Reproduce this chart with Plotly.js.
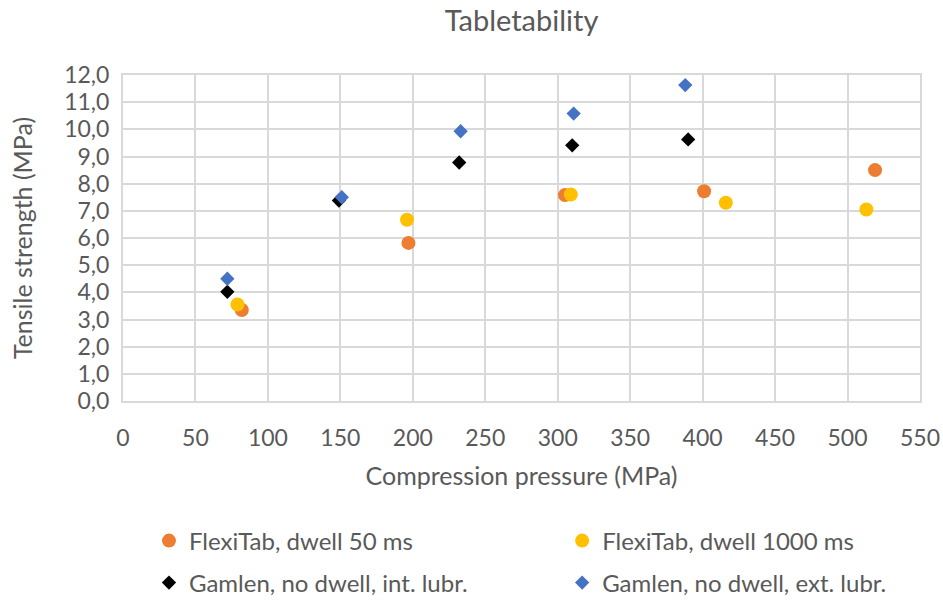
<!DOCTYPE html>
<html>
<head>
<meta charset="utf-8">
<script src="https://cdn.plot.ly/plotly-3.0.1.min.js"></script>
<style>html,body{margin:0;padding:0;background:#fff;}#chart{width:943px;height:601px;}</style>
</head>
<body>
<div id="chart"></div>
<script>
// Data
const flexi50X = [82, 197, 305, 401, 519];
const flexi50Y = [3.35, 5.82, 7.58, 7.72, 8.5];
const flexi1000X = [79, 196, 309, 416, 513];
const flexi1000Y = [3.55, 6.67, 7.6, 7.3, 7.05];
const gamlenIntX = [72, 149, 232, 310, 390];
const gamlenIntY = [4.02, 7.38, 8.78, 9.41, 9.63];
const gamlenExtX = [72, 151, 233, 311, 388];
const gamlenExtY = [4.5, 7.5, 9.93, 10.58, 11.63];
const seriesNames = ["FlexiTab, dwell 50 ms", "FlexiTab, dwell 1000 ms", "Gamlen, no dwell, int. lubr.", "Gamlen, no dwell, ext. lubr."];

const FONT = "Lato, 'Open Sans', sans-serif";
const TXT = "#595959";
const GRID = "#D9D9D9";

const traces = [
  {x: flexi50X, y: flexi50Y, name: seriesNames[0], type: "scatter", mode: "markers",
   marker: {symbol: "circle", size: 14, color: "#ED7D31"}, legend: "legend"},
  {x: flexi1000X, y: flexi1000Y, name: seriesNames[1], type: "scatter", mode: "markers",
   marker: {symbol: "circle", size: 14, color: "#FFC000"}, legend: "legend2"},
  {x: gamlenIntX, y: gamlenIntY, name: seriesNames[2], type: "scatter", mode: "markers",
   marker: {symbol: "diamond", size: 11, color: "#000000"}, legend: "legend3"},
  {x: gamlenExtX, y: gamlenExtY, name: seriesNames[3], type: "scatter", mode: "markers",
   marker: {symbol: "diamond", size: 11, color: "#4472C4"}, legend: "legend4"}
];

function legendAt(x, y) {
  return {
    orientation: "h", xanchor: "left", yanchor: "middle", x: x, y: y,
    xref: "paper", yref: "container",
    font: {family: FONT, size: 24, color: TXT},
    bgcolor: "rgba(0,0,0,0)", itemclick: false
  };
}

const layout = {
  width: 943, height: 601,
  margin: {l: 123, r: 23, t: 75, b: 200},
  paper_bgcolor: "#fff", plot_bgcolor: "#fff",
  font: {family: FONT, color: TXT},
  separators: ",.",
  title: {text: "Tabletability", font: {family: FONT, size: 29, color: TXT},
          x: 0.5, xref: "paper", xanchor: "center", y: 0.966, yref: "container", yanchor: "middle"},
  xaxis: {
    range: [0, 550], dtick: 50, tick0: 0, showgrid: true, gridcolor: GRID, gridwidth: 2,
    zeroline: false, showline: true, linecolor: GRID, linewidth: 2, mirror: true,
    ticks: "", ticklabelstandoff: 15, tickfont: {family: FONT, size: 23, color: TXT},
    title: {text: "Compression pressure (MPa)", font: {family: FONT, size: 25, color: TXT}, standoff: 18},
    fixedrange: true
  },
  yaxis: {
    range: [0, 12], dtick: 1, tick0: 0, tickformat: ".1f", showgrid: true, gridcolor: GRID, gridwidth: 2,
    zeroline: false, showline: true, linecolor: GRID, linewidth: 2, mirror: true,
    ticks: "", ticklabelstandoff: 7, tickfont: {family: FONT, size: 23, color: TXT},
    title: {text: "Tensile strength (MPa)", font: {family: FONT, size: 25, color: TXT}, standoff: 24},
    fixedrange: true
  },
  legend: legendAt(0.0326, 0.0998),
  legend2: legendAt(0.551, 0.0998),
  legend3: legendAt(0.0326, 0.030),
  legend4: legendAt(0.551, 0.030),
  showlegend: true
};

Plotly.newPlot("chart", traces, layout, {displayModeBar: false, staticPlot: true});
</script>
</body>
</html>
